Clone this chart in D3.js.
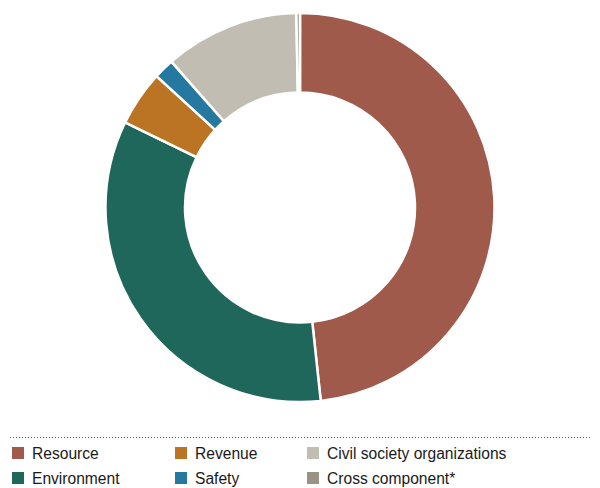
<!DOCTYPE html>
<html>
<head>
<meta charset="utf-8">
<script src="https://cdn.jsdelivr.net/npm/d3@7"></script>
<style>
  html, body { margin: 0; padding: 0; background: #fff; }
  svg { display: block; }
  text { font-family: "Liberation Sans", Arial, sans-serif; }
</style>
</head>
<body>
<svg id="chart" width="600" height="488"></svg>
<script>
// Share of spending by component (percent)
const categories = ["Resource", "Environment", "Revenue", "Safety", "Civil society organizations", "Cross component*"];
const values = [48.3, 33.9, 4.6, 1.7, 11.2, 0.3];
const colors = ["#a05a4b", "#1f665b", "#bb7424", "#2579a0", "#c2bdb2", "#9a9384"];

// Legend layout: column order per row
const legendOrder = [
  ["Resource", "Revenue", "Civil society organizations"],
  ["Environment", "Safety", "Cross component*"]
];

const svg = d3.select("#chart");
const cx = 300, cy = 207.5, outerR = 194.5, innerR = 115;

const color = d3.scaleOrdinal().domain(categories).range(colors);

const pie = d3.pie().sort(null).value(d => d.value);
const arc = d3.arc().innerRadius(innerR).outerRadius(outerR);

const data = categories.map((c, i) => ({ name: c, value: values[i] }));

svg.append("g")
  .attr("transform", `translate(${cx},${cy})`)
  .selectAll("path")
  .data(pie(data))
  .join("path")
  .attr("d", arc)
  .attr("fill", d => color(d.data.name))
  .attr("stroke", "#fff")
  .attr("stroke-width", 2.5);

// Dotted separator above the legend
svg.append("line")
  .attr("x1", 10).attr("x2", 590)
  .attr("y1", 437.5).attr("y2", 437.5)
  .attr("stroke", "#555")
  .attr("stroke-width", 1)
  .attr("stroke-dasharray", "1,2");

const colX = d3.scaleOrdinal().domain([0, 1, 2]).range([12, 175, 307]);
const rowY = d3.scaleOrdinal().domain([0, 1]).range([447, 472]);

const legend = svg.append("g");
legendOrder.forEach((row, r) => {
  row.forEach((name, c) => {
    const g = legend.append("g").attr("transform", `translate(${colX(c)},${rowY(r)})`);
    g.append("rect").attr("width", 12).attr("height", 12).attr("fill", color(name));
    g.append("text")
      .attr("x", 20).attr("y", 12)
      .attr("font-size", 15.6)
      .attr("fill", "#1a1a1a")
      .text(name);
  });
});
</script>
</body>
</html>
